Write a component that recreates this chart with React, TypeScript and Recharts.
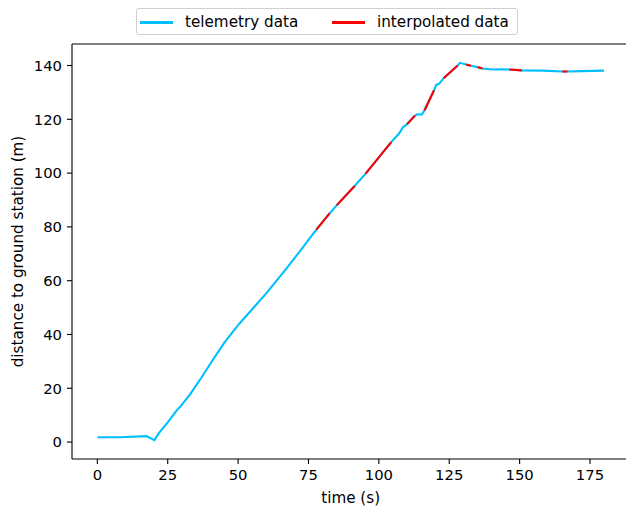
import React from 'react';
import { LineChart, Line, XAxis, YAxis, ReferenceLine } from 'recharts';

// time (s) and distance to ground station (m)
const timeS = [
  0, 8, 17.4, 20.3, 22, 25, 28, 30, 33, 37,
  41, 45, 50, 55, 60, 67, 72, 76.5, 77.8, 82.5,
  85.0, 91.4, 95.3, 104.4, 107.3, 108.5, 110.0, 112.8, 113.6, 115.3,
  116.2, 119.6, 120.4, 121.4, 123.0, 128.0, 128.8, 131.0, 132.7, 135.1,
  136.8, 140.4, 143.9, 146.3, 150.8, 158.1, 165.2, 167.0, 172, 180,
];
const distanceM = [
  1.8, 1.8, 2.2, 0.7, 3.5, 7.3, 11.5, 13.8, 17.8, 24,
  30.5, 36.8, 43.5, 49.4, 55.3, 64.3, 71, 77.2, 79.0, 85.0,
  88.0, 95.2, 99.8, 111.5, 114.9, 117.0, 118.2, 121.3, 121.9, 121.8,
  123.3, 130.8, 132.8, 133.2, 135.3, 140.0, 141.0, 140.4, 139.9, 139.4,
  138.9, 138.5, 138.6, 138.5, 138.2, 138.1, 137.8, 137.8, 137.9, 138.1,
];
// index ranges (inclusive) where the samples were interpolated
const interpolatedSpans: [number, number][] = [
  [18, 19], [20, 21], [22, 23], [26, 27], [30, 31],
  [34, 35], [37, 38], [39, 40], [43, 44], [46, 47],
];
const xTicks = [0, 25, 50, 75, 100, 125, 150, 175];
const yTicks = [0, 20, 40, 60, 80, 100, 120, 140];

const X_DOMAIN: [number, number] = [-9, 189];
const Y_DOMAIN: [number, number] = [-6.3, 148];

const BLUE = '#00BFFF';
const RED = '#FF0000';
const FONT = '"DejaVu Sans", sans-serif';

const data = timeS.map((t, i) => ({ t, d: distanceM[i] }));

const axisLine = { stroke: '#000', strokeWidth: 1.1 };
const tickStyle = { fill: '#000', fontSize: 14.8, fontFamily: FONT };
const labelStyle = { fill: '#000', fontSize: 15.2, fontFamily: FONT };

const LegendItem = ({ color, text, left }: { color: string; text: string; left: number }) => (
  <>
    <div
      style={{ position: 'absolute', left, top: 12, width: 33, height: 3, background: color }}
    />
    <span style={{ position: 'absolute', left: left + 45, top: 4, whiteSpace: 'nowrap' }}>
      {text}
    </span>
  </>
);

export default function App() {
  return (
    <div
      style={{
        position: 'absolute',
        left: 0,
        top: 0,
        width: 626,
        height: 508,
        overflow: 'hidden',
        background: '#fff',
        fontFamily: FONT,
      }}
    >
      <LineChart
        width={640}
        height={508}
        data={data}
        margin={{ top: 44, right: 10.6, bottom: 0, left: 0 }}
      >
        <XAxis
          dataKey="t"
          type="number"
          domain={X_DOMAIN}
          ticks={xTicks}
          allowDataOverflow
          height={49}
          axisLine={axisLine}
          tickLine={axisLine}
          tickSize={5}
          tickMargin={5}
          tick={tickStyle}
          label={{
            value: 'time (s)',
            position: 'insideBottom',
            offset: 5,
            style: labelStyle,
          }}
        />
        <YAxis
          type="number"
          domain={Y_DOMAIN}
          ticks={yTicks}
          allowDataOverflow
          width={72}
          axisLine={axisLine}
          tickLine={axisLine}
          tickSize={5}
          tickMargin={5}
          tick={tickStyle}
          label={{
            value: 'distance to ground station (m)',
            angle: -90,
            position: 'insideLeft',
            offset: 18,
            style: { ...labelStyle, textAnchor: 'middle' },
          }}
        />
        {/* top and right spines */}
        <ReferenceLine y={Y_DOMAIN[1]} stroke="#000" strokeWidth={1.1} />
        <ReferenceLine x={X_DOMAIN[1]} stroke="#000" strokeWidth={1.1} />
        <Line
          dataKey="d"
          stroke={BLUE}
          strokeWidth={2.1}
          dot={false}
          isAnimationActive={false}
        />
        {interpolatedSpans.map(([a, b], i) => (
          <Line
            key={i}
            data={data.slice(a, b + 1)}
            dataKey="d"
            stroke={RED}
            strokeWidth={2.1}
            dot={false}
            isAnimationActive={false}
          />
        ))}
      </LineChart>
      <div
        style={{
          position: 'absolute',
          left: 136,
          top: 8,
          width: 382,
          height: 27,
          boxSizing: 'border-box',
          border: '1px solid #d0d0d0',
          borderRadius: 3,
          fontSize: 15.2,
          lineHeight: '18px',
          color: '#000',
        }}
      >
        <LegendItem color={BLUE} text="telemetry data" left={3} />
        <LegendItem color={RED} text="interpolated data" left={195} />
      </div>
    </div>
  );
}
